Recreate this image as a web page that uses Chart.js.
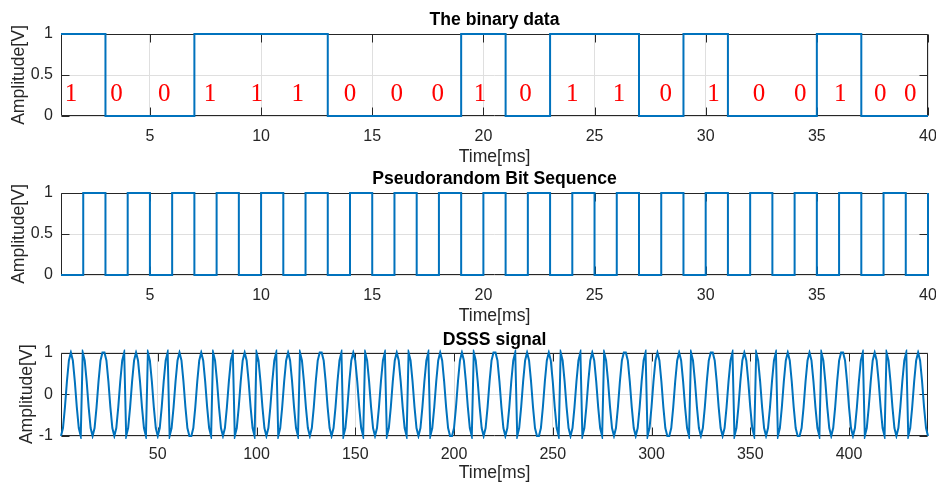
<!DOCTYPE html>
<html>
<head>
<meta charset="utf-8">
<script src="https://cdn.jsdelivr.net/npm/chart.js@4.4.0/dist/chart.umd.min.js"></script>
<style>
body { margin: 0; background: #fff; }
#wrap { position: relative; width: 936px; height: 485px; }
canvas { position: absolute; left: 0; }
</style>
</head>
<body>
<div id="wrap">
	<canvas id="grafica-datos" width="936" height="168" style="top:0px"></canvas>
	<canvas id="grafica-pn" width="936" height="168" style="top:159px"></canvas>
	<canvas id="grafica-dsss" width="936" height="164" style="top:320px"></canvas>
</div>
<script>
// datos binarios, un bit cada 2 ms
var dataBits = [1, 0, 0, 1, 1, 1, 0, 0, 0, 1, 0, 1, 1, 0, 1, 0, 0, 1, 0, 0];
// posiciones (ms) de los numeros rojos
var bitLabelX = [1.45, 3.5, 5.65, 7.7, 9.8, 11.65, 14, 16.1, 17.95, 19.85, 21.9, 24, 26.1, 28.2, 30.35, 32.4, 34.25, 36.05, 37.85, 39.2];
var bitLabelY = 0.26;

// secuencia pseudoaleatoria, un chip por ms
var pnChips = [0, 1, 0, 1, 0, 1, 0, 1, 0, 1, 0, 1, 0, 1, 0, 1, 0, 1, 0, 1,
	0, 1, 0, 1, 0, 1, 0, 1, 0, 1, 0, 1, 0, 1, 0, 1, 0, 1, 0, 1];

// fase de cada chip en la senal DSSS (+1 = cos, -1 = cos + pi)
var chipPolarity = [-1, 1, 1, -1, 1, -1, -1, 1, -1, 1, -1, 1, 1, -1, 1, -1, 1, -1, -1, 1,
	1, -1, -1, 1, -1, 1, 1, -1, -1, 1, 1, -1, 1, -1, -1, 1, 1, -1, 1, -1];
// un periodo de portadora (11 muestras por chip)
var carrierCycle = [1, 0.809, 0.309, -0.309, -0.809, -1, -0.809, -0.309, 0.309, 0.809, 1];

var ticksTiempo = [5, 10, 15, 20, 25, 30, 35, 40];
var ticksDsss = [50, 100, 150, 200, 250, 300, 350, 400];
var ticksBinario = [0, 0.5, 1];
var ticksDsssY = [-1, 0, 1];

var AZUL = '#0072BD';
var FUENTE = '"Liberation Sans", Arial, Helvetica, sans-serif';

function puntosEscalera(muestras)
{
	var puntos = [];
	for (var i = 0; i < muestras.length; i++)
		puntos.push({ x: i + 1, y: muestras[i] });
	return puntos;
}

function muestrasDatos()
{
	var m = [];
	for (var i = 0; i < dataBits.length; i++)
	{
		m.push(dataBits[i]);
		m.push(dataBits[i]);
	}
	return m;
}

function puntosDsss()
{
	var puntos = [];
	var n = 1;
	for (var i = 0; i < chipPolarity.length; i++)
	{
		for (var j = 0; j < carrierCycle.length; j++)
		{
			puntos.push({ x: n, y: chipPolarity[i] * carrierCycle[j] });
			n++;
		}
	}
	return puntos;
}

// caja y marcas hacia dentro, estilo matlab
var ejesMatlab = {
	id: 'ejesMatlab',
	beforeDatasetsDraw: function (chart)
	{
		var ctx = chart.ctx;
		var a = chart.chartArea;
		var l = Math.round(a.left) + 0.5, r = Math.round(a.right) - 0.5;
		var t = Math.round(a.top) + 0.5, b = Math.round(a.bottom) - 0.5;
		ctx.save();
		ctx.strokeStyle = '#262626';
		ctx.lineWidth = 1;
		ctx.beginPath();
		ctx.rect(l, t, r - l, b - t);
		chart.scales.x.ticks.forEach(function (tk) {
			var px = Math.round(chart.scales.x.getPixelForValue(tk.value)) + 0.5;
			ctx.moveTo(px, b); ctx.lineTo(px, b - 8);
			ctx.moveTo(px, t); ctx.lineTo(px, t + 8);
		});
		chart.scales.y.ticks.forEach(function (tk) {
			var py = Math.round(chart.scales.y.getPixelForValue(tk.value)) + 0.5;
			ctx.moveTo(l, py); ctx.lineTo(l + 8, py);
			ctx.moveTo(r, py); ctx.lineTo(r - 8, py);
		});
		ctx.stroke();
		ctx.restore();
	}
};

var etiquetasBits = {
	id: 'etiquetasBits',
	afterDatasetsDraw: function (chart)
	{
		var ctx = chart.ctx;
		ctx.save();
		ctx.fillStyle = '#ff0000';
		ctx.font = '25px "Liberation Serif", "Times New Roman", serif';
		ctx.textAlign = 'center';
		ctx.textBaseline = 'middle';
		for (var i = 0; i < bitLabelX.length; i++)
		{
			var px = chart.scales.x.getPixelForValue(bitLabelX[i]);
			var py = chart.scales.y.getPixelForValue(bitLabelY);
			ctx.fillText(String(dataBits[i]), px, py);
		}
		ctx.restore();
	}
};

function creaGrafica(id, cfg)
{
	var contexto = document.getElementById(id).getContext('2d');
	return new Chart(contexto, {
		type: 'line',
		data: {
			datasets: [{
				data: cfg.puntos,
				borderColor: AZUL,
				borderWidth: 2,
				pointRadius: 0,
				stepped: cfg.escalera,
				tension: 0,
				fill: false,
				clip: 3
			}]
		},
		options: {
			responsive: false,
			animation: false,
			events: [],
			layout: { padding: { left: 0, right: 8, top: 0, bottom: 0 } },
			plugins: {
				legend: { display: false },
				tooltip: { enabled: false },
				title: {
					display: true,
					text: cfg.titulo,
					fullSize: false,
					color: '#000',
					font: { family: FUENTE, size: 17.6, weight: 'bold' },
					padding: { top: 9.44, bottom: cfg.tituloAbajo }
				}
			},
			scales: {
				x: {
					type: 'linear',
					min: cfg.xMin,
					max: cfg.xMax,
					afterBuildTicks: function (s) { s.ticks = cfg.xTicks.map(function (v) { return { value: v }; }); },
					afterFit: function (s) { s.height = cfg.altoX; s.paddingRight = 0; s.paddingLeft = 0; },
					grid: { color: '#dfdfdf', drawTicks: false },
					border: { display: false },
					ticks: {
						autoSkip: false, maxRotation: 0, padding: cfg.padTicksX,
						color: '#262626', font: { family: FUENTE, size: 16 }
					},
					title: {
						display: true, text: 'Time[ms]', color: '#262626',
						font: { family: FUENTE, size: 17.6 }, padding: 0
					}
				},
				y: {
					type: 'linear',
					min: cfg.yMin,
					max: cfg.yMax,
					afterBuildTicks: function (s) { s.ticks = cfg.yTicks.map(function (v) { return { value: v }; }); },
					afterFit: function (s) { s.width = 61; },
					grid: { color: '#dfdfdf', drawTicks: false },
					border: { display: false },
					ticks: {
						padding: 8, color: '#262626', font: { family: FUENTE, size: 16 },
						callback: function (v) { return String(v); }
					},
					title: {
						display: true, text: 'Amplitude[V]', color: '#262626',
						font: { family: FUENTE, size: 17.6 }, padding: { top: cfg.padYTitulo, bottom: 0 }
					}
				}
			}
		},
		plugins: cfg.plugins
	});
}

creaGrafica('grafica-datos', {
	titulo: 'The binary data',
	puntos: puntosEscalera(muestrasDatos()),
	escalera: true,
	tituloAbajo: 3.44,
	xMin: 1, xMax: 40, xTicks: ticksTiempo,
	yMin: 0, yMax: 1, yTicks: ticksBinario,
	altoX: 52,
	padTicksX: 11,
	padYTitulo: 9,
	plugins: [ejesMatlab, etiquetasBits]
});

creaGrafica('grafica-pn', {
	titulo: 'Pseudorandom Bit Sequence',
	puntos: puntosEscalera(pnChips),
	escalera: true,
	tituloAbajo: 3.44,
	xMin: 1, xMax: 40, xTicks: ticksTiempo,
	yMin: 0, yMax: 1, yTicks: ticksBinario,
	altoX: 52,
	padTicksX: 11,
	padYTitulo: 9,
	plugins: [ejesMatlab]
});

creaGrafica('grafica-dsss', {
	titulo: 'DSSS signal',
	puntos: puntosDsss(),
	escalera: false,
	tituloAbajo: 1.94,
	xMin: 1, xMax: 440, xTicks: ticksDsss,
	yMin: -1, yMax: 1, yTicks: ticksDsssY,
	altoX: 48,
	padTicksX: 9,
	padYTitulo: 17,
	plugins: [ejesMatlab]
});
</script>
</body>
</html>
